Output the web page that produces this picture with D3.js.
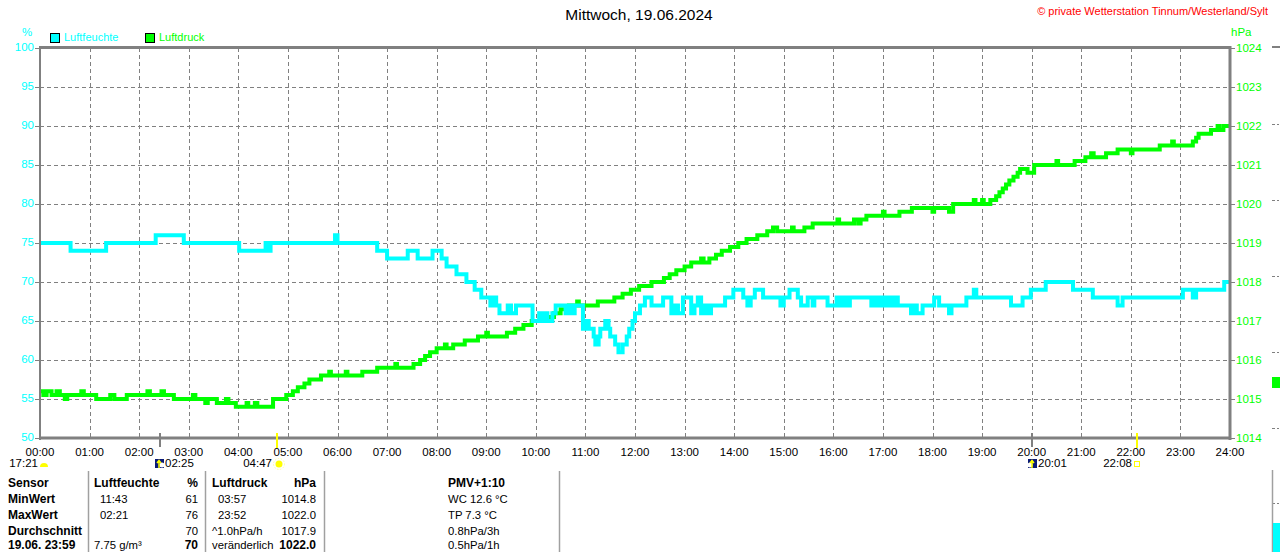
<!DOCTYPE html>
<html>
<head>
<meta charset="utf-8">
<script src="https://cdn.jsdelivr.net/npm/d3@7"></script>
<style>
  body { margin: 0; background: #fff; }
  svg { display: block; }
  text { font-family: "Liberation Sans", Arial, sans-serif; }
</style>
</head>
<body>
<div id="vis"></div>
<script>
// Luftfeuchte (%), Stufenwerte
const humTimes = ["00:00","00:37","01:20","02:20","02:54","04:01","04:33","04:36","04:39","05:57","06:00","06:48","07:00","07:25","07:37","07:55","08:06","08:12","08:24","08:36","08:46","08:54","09:05","09:08","09:12","09:16","09:26","09:30","09:36","09:56","10:04","10:06","10:10","10:14","10:20","10:24","10:36","10:40","10:44","10:47","10:57","11:00","11:04","11:10","11:12","11:16","11:18","11:24","11:28","11:30","11:36","11:40","11:45","11:50","11:53","11:57","12:00","12:06","12:12","12:20","12:34","12:44","12:48","12:52","12:58","13:08","13:12","13:16","13:20","13:24","13:28","13:32","13:49","13:59","14:11","14:16","14:20","14:25","14:35","14:56","15:00","15:07","15:17","15:21","15:29","15:35","15:37","15:53","16:04","16:08","16:12","16:16","16:20","16:46","16:50","16:54","16:58","17:02","17:06","17:10","17:14","17:18","17:34","17:38","17:41","17:48","17:56","18:02","18:08","18:20","18:23","18:41","18:50","18:53","19:35","19:49","19:59","20:17","20:50","21:14","21:44","21:50","23:03","23:15","23:19","23:53","24:00"];
const humValues = [75,74,75,76,75,74,75,74,75,76,75,74,73,74,73,74,73,72,71,70,69,68,67,68,67,66,67,66,67,65,66,65,66,65,66,67,66,67,66,67,64,65,64,63,62,63,64,65,64,63,62,61,62,63,64,65,66,67,68,67,68,66,67,66,68,66,67,68,66,67,66,67,68,69,68,67,68,69,68,67,68,69,68,67,68,67,68,67,68,67,68,67,68,67,68,67,68,67,68,67,68,67,66,67,66,67,67,68,67,66,67,68,69,68,67,68,69,70,69,68,67,68,69,68,69,70,70];

// Luftdruck (hPa), Stufenwerte
const presTimes = [
  "00:00","00:04","00:08","00:14","00:20","00:24","00:30","00:33","00:50","00:53",
  "01:08","01:25","01:30","01:45","02:10","02:13","02:27","02:30","02:42","03:05",
  "03:08","03:20","03:23","03:34","03:45","03:48","03:57","04:10","04:12","04:20",
  "04:23","04:42","04:58","05:06","05:12","05:20","05:26","05:40","05:50","05:52",
  "06:10","06:12","06:30","06:48","07:10","07:12","07:32","07:40","07:46","07:52",
  "08:00","08:10","08:12","08:20","08:34","08:50","09:00","09:02","09:25","09:35",
  "09:45","09:55","10:10","10:22","10:30","10:40","10:50","10:52","11:15","11:35",
  "11:45","11:55","12:05","12:20","12:35","12:42","12:50","13:00","13:08","13:20",
  "13:23","13:30","13:38","13:45","13:55","14:05","14:15","14:28","14:40","14:47",
  "14:52","15:10","15:12","15:25","15:35","16:05","16:07","16:25","16:30","16:33",
  "16:40","17:00","17:02","17:20","17:35","18:00","18:02","18:20","18:25","18:50",
  "18:52","19:00","19:02","19:10","19:17","19:21","19:25","19:29","19:33","19:38",
  "19:43","19:46","19:55","20:03","20:30","20:32","20:52","21:05","21:12","21:15",
  "21:30","21:44","22:00","22:02","22:35","22:50","22:52","23:15","23:19","23:22",
  "23:37","23:45","23:47","23:52","24:00"
];
const presValues = [
  1015.2,1015.1,1015.2,1015.1,1015.2,1015.1,1015.0,1015.1,1015.2,1015.1,
  1015.0,1015.1,1015.0,1015.1,1015.2,1015.1,1015.2,1015.1,1015.0,1015.1,
  1015.0,1014.9,1015.0,1014.9,1015.0,1014.9,1014.8,1014.9,1014.8,1014.9,
  1014.8,1015.0,1015.1,1015.2,1015.3,1015.4,1015.5,1015.6,1015.7,1015.6,
  1015.7,1015.6,1015.7,1015.8,1015.9,1015.8,1015.9,1016.0,1016.1,1016.2,
  1016.3,1016.4,1016.3,1016.4,1016.5,1016.6,1016.7,1016.6,1016.7,1016.8,
  1016.9,1017.0,1017.1,1017.2,1017.3,1017.4,1017.5,1017.4,1017.5,1017.6,
  1017.7,1017.8,1017.9,1018.0,1018.1,1018.2,1018.3,1018.4,1018.5,1018.6,
  1018.5,1018.6,1018.7,1018.8,1018.9,1019.0,1019.1,1019.2,1019.3,1019.4,
  1019.3,1019.4,1019.3,1019.4,1019.5,1019.6,1019.5,1019.6,1019.5,1019.6,
  1019.7,1019.8,1019.7,1019.8,1019.9,1019.8,1019.9,1019.8,1020.0,1020.1,
  1020.0,1020.1,1020.0,1020.1,1020.2,1020.3,1020.4,1020.5,1020.6,1020.7,
  1020.8,1020.9,1020.8,1021.0,1021.1,1021.0,1021.1,1021.2,1021.3,1021.2,
  1021.3,1021.4,1021.3,1021.4,1021.5,1021.6,1021.5,1021.6,1021.7,1021.8,
  1021.9,1022.0,1021.9,1022.0,1022.0
];

const hourLabels = ["00:00","01:00","02:00","03:00","04:00","05:00","06:00","07:00","08:00","09:00","10:00","11:00","12:00","13:00","14:00","15:00","16:00","17:00","18:00","19:00","20:00","21:00","22:00","23:00","24:00"];
const humTicks = [50,55,60,65,70,75,80,85,90,95,100];
const presTicks = [1014,1015,1016,1017,1018,1019,1020,1021,1022,1023,1024];

// Sonne und Mond: Zeit, Text
const sunMoon = [
  { time: "00:00", label: "17:21", kind: "moonset" },
  { time: "02:25", label: "02:25", kind: "moonrise" },
  { time: "04:47", label: "04:47", kind: "sunrise" },
  { time: "20:01", label: "20:01", kind: "moonrise2" },
  { time: "22:08", label: "22:08", kind: "sunset" }
];

const tableHeader = ["Sensor", "Luftfeuchte", "%", "Luftdruck", "hPa", "PMV+1:10"];
const tableRows = [
  ["MinWert", "11:43", "61", "03:57", "1014.8", "WC 12.6 °C"],
  ["MaxWert", "02:21", "76", "23:52", "1022.0", "TP 7.3 °C"],
  ["Durchschnitt", "", "70", "^1.0hPa/h", "1017.9", "0.8hPa/3h"],
  ["19.06. 23:59", "7.75 g/m³", "70", "veränderlich", "1022.0", "0.5hPa/1h"]
];

const W = 1280, H = 552;
const grey = '#808080';
const cyan = '#00ffff';
const green = '#00ff00';

function toHours(s) {
  const p = s.split(':');
  return +p[0] + (+p[1]) / 60;
}

const svg = d3.select('#vis').append('svg')
  .attr('width', W)
  .attr('height', H);

const x = d3.scaleLinear().domain([0, 24]).range([40, 1230]);
const yH = d3.scaleLinear().domain([50, 100]).range([438, 48]);
const yP = d3.scaleLinear().domain([1014, 1024]).range([438, 48]);

// title + copyright
svg.append('text')
  .attr('x', 639).attr('y', 16)
  .attr('text-anchor', 'middle')
  .attr('dominant-baseline', 'middle')
  .attr('font-size', '15.5px')
  .attr('fill', '#000')
  .text('Mittwoch, 19.06.2024');

svg.append('text')
  .attr('x', 1268).attr('y', 12)
  .attr('text-anchor', 'end')
  .attr('dominant-baseline', 'middle')
  .attr('font-size', '11px')
  .attr('fill', '#ff0000')
  .text('© private Wetterstation Tinnum/Westerland/Sylt');

// legend
const legend = [{ name: 'Luftfeuchte', color: cyan, x: 50 }, { name: 'Luftdruck', color: green, x: 145 }];
legend.forEach(d => {
  svg.append('rect')
    .attr('x', d.x + 0.5).attr('y', 33.5)
    .attr('width', 9).attr('height', 9)
    .attr('fill', d.color)
    .attr('stroke', '#000')
    .attr('stroke-width', 1);
  svg.append('text')
    .attr('x', d.x + 14).attr('y', 38)
    .attr('dominant-baseline', 'middle')
    .attr('font-size', '11px')
    .attr('fill', d.color)
    .text(d.name);
});

// units
svg.append('text')
  .attr('x', 27).attr('y', 33)
  .attr('text-anchor', 'middle')
  .attr('dominant-baseline', 'middle')
  .attr('font-size', '11.5px')
  .attr('fill', cyan)
  .text('%');
svg.append('text')
  .attr('x', 1231).attr('y', 33)
  .attr('dominant-baseline', 'middle')
  .attr('font-size', '11.5px')
  .attr('fill', green)
  .text('hPa');

// grid
const grid = svg.append('g');
grid.selectAll('.hg')
  .data(humTicks.slice(1, -1))
  .enter().append('line')
  .attr('x1', x(0)).attr('x2', x(24))
  .attr('y1', d => Math.round(yH(d)) + 0.5)
  .attr('y2', d => Math.round(yH(d)) + 0.5)
  .attr('stroke', grey)
  .attr('stroke-dasharray', '4,3');
grid.selectAll('.vg')
  .data(d3.range(1, 24))
  .enter().append('line')
  .attr('x1', d => Math.round(x(d)) + 0.5)
  .attr('x2', d => Math.round(x(d)) + 0.5)
  .attr('y1', yH(100)).attr('y2', yH(50))
  .attr('stroke', grey)
  .attr('stroke-dasharray', '4,3');

// lines
const humData = humTimes.map((t, i) => ({ h: toHours(t), v: humValues[i] }));
const presData = presTimes.map((t, i) => ({ h: toHours(t), v: presValues[i] }));

svg.append('path')
  .datum(presData)
  .attr('fill', 'none')
  .attr('stroke', green)
  .attr('stroke-width', 4)
  .attr('d', d3.line().curve(d3.curveStepAfter).x(d => x(d.h)).y(d => yP(d.v)));

svg.append('path')
  .datum(humData)
  .attr('fill', 'none')
  .attr('stroke', cyan)
  .attr('stroke-width', 4)
  .attr('d', d3.line().curve(d3.curveStepAfter).x(d => x(d.h)).y(d => yH(d.v)));

// frame
svg.append('line').attr('x1', 39).attr('x2', 1231).attr('y1', 47.5).attr('y2', 47.5)
  .attr('stroke', grey).attr('stroke-width', 3);
svg.append('line').attr('x1', 39).attr('x2', 1231).attr('y1', 438).attr('y2', 438)
  .attr('stroke', grey).attr('stroke-width', 3);
svg.append('line').attr('x1', 40).attr('x2', 40).attr('y1', 46).attr('y2', 440)
  .attr('stroke', grey).attr('stroke-width', 2);
svg.append('line').attr('x1', 1230).attr('x2', 1230).attr('y1', 46).attr('y2', 440)
  .attr('stroke', grey).attr('stroke-width', 3);

// left axis
svg.selectAll('.lt')
  .data(humTicks)
  .enter().append('line')
  .attr('x1', 35).attr('x2', 39)
  .attr('y1', d => Math.round(yH(d)) + 0.5)
  .attr('y2', d => Math.round(yH(d)) + 0.5)
  .attr('stroke', grey);
svg.selectAll('.ll')
  .data(humTicks)
  .enter().append('text')
  .attr('x', 34).attr('y', d => yH(d))
  .attr('text-anchor', 'end')
  .attr('dominant-baseline', 'middle')
  .attr('font-size', '11.5px')
  .attr('fill', cyan)
  .text(d => d);

// right axis
svg.selectAll('.rt')
  .data(presTicks)
  .enter().append('line')
  .attr('x1', 1231).attr('x2', 1235)
  .attr('y1', d => Math.round(yP(d)) + 0.5)
  .attr('y2', d => Math.round(yP(d)) + 0.5)
  .attr('stroke', grey);
svg.selectAll('.rl')
  .data(presTicks)
  .enter().append('text')
  .attr('x', 1236).attr('y', d => yP(d) + 1)
  .attr('dominant-baseline', 'middle')
  .attr('font-size', '11.5px')
  .attr('fill', green)
  .text(d => d);

// x axis labels
svg.selectAll('.xl')
  .data(hourLabels)
  .enter().append('text')
  .attr('x', (d, i) => x(i)).attr('y', 453)
  .attr('text-anchor', 'middle')
  .attr('dominant-baseline', 'middle')
  .attr('font-size', '11.5px')
  .attr('fill', '#000')
  .text(d => d);

// sun & moon markers
sunMoon.forEach(d => {
  const px = Math.round(x(toHours(d.time)));
  const yRow = 464;
  if (d.kind === 'moonset') {
    svg.append('text').attr('x', 38).attr('y', yRow)
      .attr('text-anchor', 'end').attr('dominant-baseline', 'middle')
      .attr('font-size', '11.5px').attr('fill', '#000').text(d.label);
    svg.append('path')
      .attr('d', d3.arc()({ innerRadius: 0, outerRadius: 4, startAngle: -Math.PI / 2, endAngle: Math.PI / 2 }))
      .attr('transform', `translate(${px + 4},${yRow + 3})`)
      .attr('fill', '#ffff00');
  } else if (d.kind === 'moonrise' || d.kind === 'moonrise2') {
    svg.append('line').attr('x1', px).attr('x2', px).attr('y1', 433).attr('y2', 447)
      .attr('stroke', grey).attr('stroke-width', 2);
    const ix = d.kind === 'moonrise' ? px - 5 : px - 4;
    svg.append('rect').attr('x', ix).attr('y', 459).attr('width', 9).attr('height', 9)
      .attr('fill', '#0a1a78');
    svg.append('circle').attr('cx', ix + (d.kind === 'moonrise' ? 7 : 2)).attr('cy', 465)
      .attr('r', 2.5).attr('fill', '#ffffff');
    svg.append('path')
      .attr('d', `M${ix + 4},${468} L${ix + 4},${461} M${ix + 2},${463} L${ix + 4},${460.5} L${ix + 6},${463}`)
      .attr('stroke', '#ffff00').attr('stroke-width', 1.5).attr('fill', 'none');
    svg.append('text').attr('x', ix + 10).attr('y', yRow)
      .attr('dominant-baseline', 'middle')
      .attr('font-size', '11.5px').attr('fill', '#000').text(d.label);
  } else {
    svg.append('line').attr('x1', px).attr('x2', px).attr('y1', 433).attr('y2', 448)
      .attr('stroke', '#ffff00').attr('stroke-width', 2);
    svg.append('text').attr('x', px - 5).attr('y', yRow)
      .attr('text-anchor', 'end').attr('dominant-baseline', 'middle')
      .attr('font-size', '11.5px').attr('fill', '#000').text(d.label);
    if (d.kind === 'sunrise') {
      svg.append('circle').attr('cx', px + 2).attr('cy', yRow).attr('r', 3.5).attr('fill', '#ffff00');
      svg.append('circle').attr('cx', px + 2).attr('cy', yRow).attr('r', 5.5)
        .attr('fill', 'none').attr('stroke', '#ffffa0').attr('stroke-width', 1).attr('stroke-dasharray', '1.5,1.5');
    } else {
      svg.append('rect').attr('x', px - 2.5).attr('y', yRow - 2.5).attr('width', 5).attr('height', 5)
        .attr('fill', 'none').attr('stroke', '#ffff00').attr('stroke-width', 1);
    }
  }
});

// table
const colSep = [88, 205, 324, 559];
colSep.forEach(cx => {
  svg.append('line').attr('x1', cx + 0.5).attr('x2', cx + 0.5).attr('y1', 471).attr('y2', H)
    .attr('stroke', '#a0a0a0').attr('stroke-width', 1.5);
});

const rowY = [484, 500, 516, 532, 546];
const cols = [
  { x: 8, anchor: 'start' },
  { x: 94, anchor: 'start' },
  { x: 198, anchor: 'end' },
  { x: 212, anchor: 'start' },
  { x: 316, anchor: 'end' },
  { x: 448, anchor: 'start' }
];

function cell(txt, c, y, bold) {
  svg.append('text')
    .attr('x', c.x).attr('y', y)
    .attr('text-anchor', c.anchor)
    .attr('dominant-baseline', 'middle')
    .attr('font-size', bold ? '12px' : '11.3px')
    .attr('font-weight', bold ? 'bold' : 'normal')
    .attr('fill', '#000')
    .text(txt);
}

tableHeader.forEach((t, i) => cell(t, cols[i], rowY[0], true));
tableRows.forEach((row, r) => {
  row.forEach((t, i) => {
    let c = cols[i];
    if ((i === 1 || i === 3) && r < 2) c = { x: c.x + 6, anchor: 'start' };
    const bold = i === 0 || (r === 3 && (i === 2 || i === 4));
    cell(t, c, rowY[r + 1], bold);
  });
});

// clipped neighbour panel at the right edge
svg.append('line').attr('x1', 1272).attr('x2', W).attr('y1', 47).attr('y2', 47)
  .attr('stroke', grey).attr('stroke-width', 2);
[124, 200, 276, 352, 428, 503].forEach(ty => {
  svg.append('line').attr('x1', 1272).attr('x2', 1275).attr('y1', ty + 0.5).attr('y2', ty + 0.5)
    .attr('stroke', grey);
  svg.append('line').attr('x1', 1277).attr('x2', 1279).attr('y1', ty + 0.5).attr('y2', ty + 0.5)
    .attr('stroke', grey);
});
svg.append('rect').attr('x', 1272).attr('y', 377).attr('width', 8).attr('height', 11).attr('fill', green);
svg.append('line').attr('x1', 1272.5).attr('x2', 1272.5).attr('y1', 470).attr('y2', H)
  .attr('stroke', '#a0a0a0').attr('stroke-width', 1.5);
svg.append('rect').attr('x', 1273).attr('y', 523).attr('width', 7).attr('height', 29).attr('fill', cyan);
</script>
</body>
</html>
